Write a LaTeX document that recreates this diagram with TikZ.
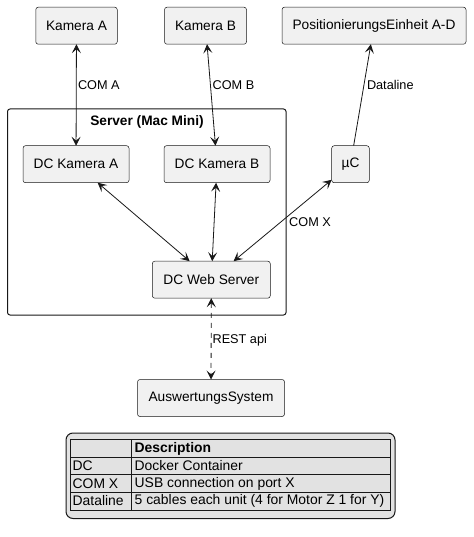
\documentclass[tikz,border=0pt]{standalone}
\usepackage{fontspec}
\setmainfont{Liberation Sans}
\usetikzlibrary{arrows.meta}
\definecolor{boxfill}{HTML}{F1F1F1}
\definecolor{linec}{HTML}{181818}
\definecolor{legfill}{HTML}{E2E2E2}
\begin{document}
\begin{tikzpicture}[x=1pt,y=-1pt,
  comp/.style={draw=linec, fill=boxfill, rounded corners=2.5pt, line width=0.5pt,
    minimum height=37pt, inner sep=0pt, outer sep=0pt,
    font=\fontsize{13.7}{16}\selectfont},
  tip/.tip={Stealth[length=9pt,width=9pt,inset=4pt]},
  conn/.style={draw=linec, line width=0.8pt},
  lbl/.style={anchor=west, inner sep=0pt, font=\fontsize{12.7}{15}\selectfont},
  frame/.style={draw=linec, line width=1pt, rounded corners=2.5pt},
  legtxt/.style={anchor=west, inner sep=0pt, font=\fontsize{13.9}{16}\selectfont},
]
\useasboundingbox (0,0) rectangle (473,537);
\fill[white] (0,0) rectangle (473,537);

% server frame
\draw[frame] (7.5,109) rectangle (286,315);
\node[font=\bfseries\fontsize{13.7}{16}\selectfont, inner sep=0pt] (srv) at (147,122) {Server (Mac Mini)};

% components
\node[comp, minimum width=81.5pt] (ka) at (76.5,25.7) {Kamera A};
\node[comp, minimum width=82pt] (kb) at (205.5,25.7) {Kamera B};
\node[comp, minimum width=184pt] (pe) at (374,25.7) {PositionierungsEinheit A-D};
\node[comp, minimum width=106pt] (dka) at (76,164.2) {DC Kamera A};
\node[comp, minimum width=106pt] (dkb) at (217,164.2) {DC Kamera B};
\node[comp, minimum width=37.6pt] (uc) at (350.5,164.2) {µC};
\node[comp, minimum width=118pt] (web) at (211.3,279.7) {DC Web Server};
\node[comp, minimum width=147pt] (aus) at (211,398) {AuswertungsSystem};

% connectors
\draw[conn, tip-tip] (ka) -- (dka);
\draw[conn, tip-tip] (kb) -- (dkb);
\draw[conn, -tip] (uc) -- (pe);
\draw[conn, tip-tip] (dka) -- (web);
\draw[conn, tip-tip] (dkb) -- (web);
\draw[conn, tip-tip] (uc) -- (web);
\draw[conn, tip-tip, dash pattern=on 5pt off 5pt] (web) -- (aus);

% labels
\node[lbl] (la) at (77.8,85) {COM A};
\node[lbl] (lb) at (212.4,85) {COM B};
\node[lbl] (ld) at (366.8,85) {Dataline};
\node[lbl] (lx) at (289,222.3) {COM X};
\node[lbl] (lr) at (212.4,340.3) {REST api};

% legend
\draw[draw=linec, fill=legfill, line width=1pt, rounded corners=7pt] (66,433) rectangle (395,518.5);
\draw[draw=linec, line width=1pt] (70,439.5) rectangle (390,510);
\draw[draw=linec, line width=0.8pt] (70,457) -- (390,457);
\draw[draw=linec, line width=0.8pt] (70,474.5) -- (390,474.5);
\draw[draw=linec, line width=0.8pt] (70,492) -- (390,492);
\draw[draw=linec, line width=0.8pt] (131,439.5) -- (131,510);
\node[legtxt, font=\bfseries\fontsize{13.9}{16}\selectfont] (h2) at (134.5,448.5) {Description};
\node[legtxt] (r1a) at (72.5,466) {DC};
\node[legtxt] (r1b) at (134.5,466) {Docker Container};
\node[legtxt] (r2a) at (72.5,483.5) {COM X};
\node[legtxt] (r2b) at (134.5,483.5) {USB connection on port X};
\node[legtxt] (r3a) at (72.5,501) {Dataline};
\node[legtxt] (r3b) at (134.5,501) {5 cables each unit (4 for Motor Z 1 for Y)};
\end{tikzpicture}
\end{document}
